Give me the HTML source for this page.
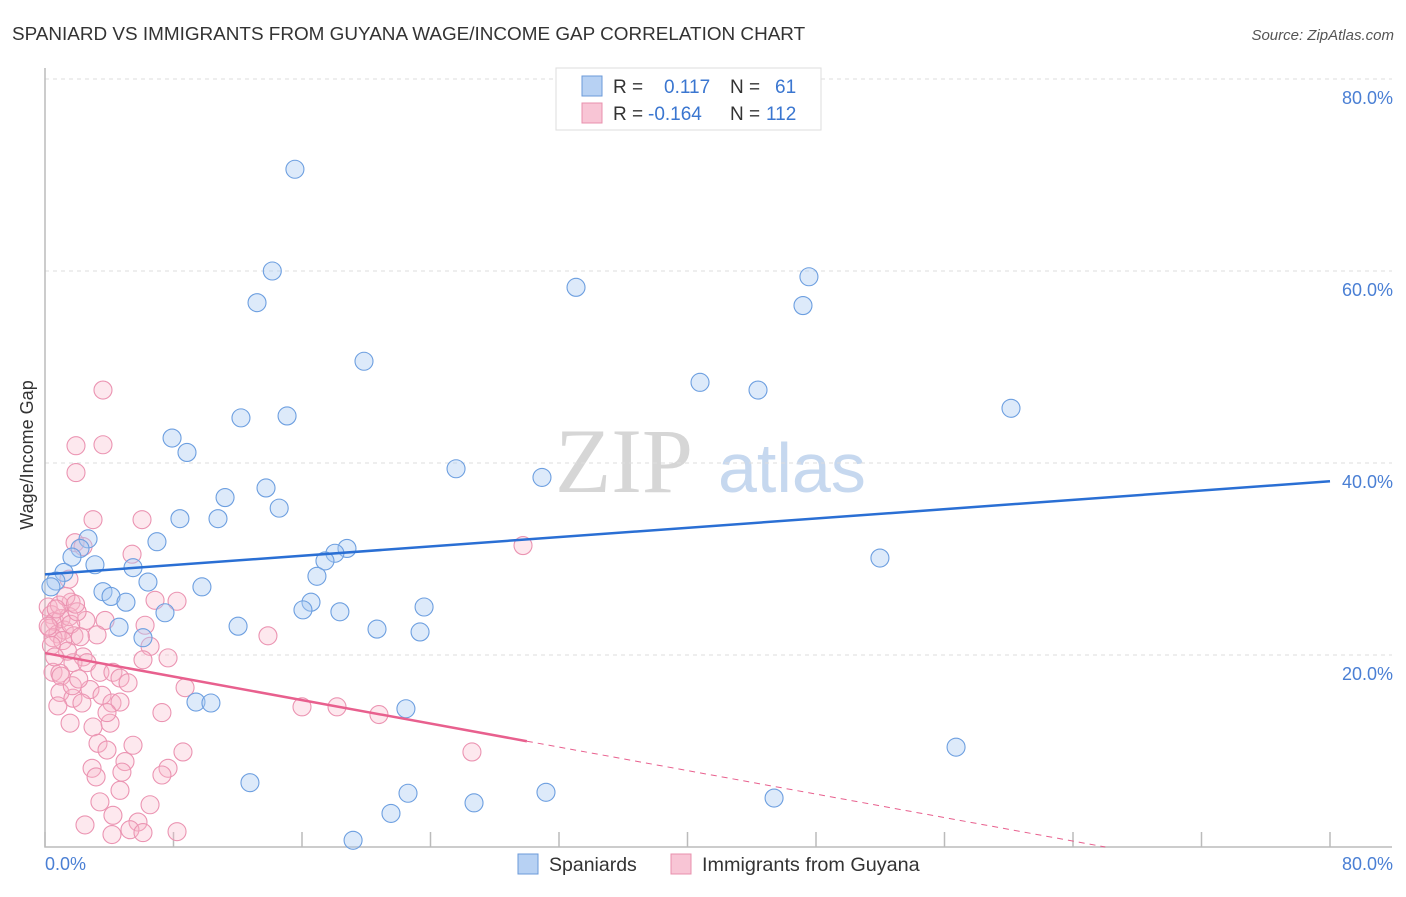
<!DOCTYPE html>
<html><head><meta charset="utf-8"><style>
body{margin:0;background:#fff;font-family:"Liberation Sans",sans-serif}
</style></head><body>
<svg width="1406" height="892" xmlns="http://www.w3.org/2000/svg" id="chart" font-family="Liberation Sans, sans-serif">
<text x="12" y="40" font-size="18.9" fill="#333">SPANIARD VS IMMIGRANTS FROM GUYANA WAGE/INCOME GAP CORRELATION CHART</text>
<text x="1394" y="40" font-size="15" fill="#555" font-style="italic" text-anchor="end">Source: ZipAtlas.com</text>
<g>
<text x="555" y="492" font-size="92" fill="#d6d6d6" font-family="Liberation Serif, serif">ZIP</text>
<text x="718" y="492" font-size="70" fill="#c6d8ef">atlas</text>
</g>
<g id="grid"></g><g id="axes"></g><g id="pinkpts"></g><g id="bluepts"></g><g id="lines"></g>
<text x="-455" y="33" transform="rotate(-90)" font-size="18" fill="#333" text-anchor="middle">Wage/Income Gap</text>
<text x="45" y="870" font-size="18" fill="#4a7fd4">0.0%</text>
<text x="1393" y="870" font-size="18" fill="#4a7fd4" text-anchor="end">80.0%</text>
<g>
<rect x="556" y="68" width="265" height="62" fill="#fff" stroke="#ddd"/>
<rect x="582" y="76" width="20" height="20" fill="#b7d1f3" stroke="#6b9ad8"/>
<rect x="582" y="103" width="20" height="20" fill="#f8c5d5" stroke="#e890ad"/>
<text x="613" y="93" font-size="19" fill="#333">R =</text><text x="664" y="93" font-size="19" fill="#3a76d0">0.117</text>
<text x="730" y="93" font-size="19" fill="#333">N =</text><text x="775" y="93" font-size="19" fill="#3a76d0">61</text>
<text x="613" y="120" font-size="19" fill="#333">R =</text><text x="648" y="120" font-size="19" fill="#3a76d0">-0.164</text>
<text x="730" y="120" font-size="19" fill="#333">N =</text><text x="766" y="120" font-size="19" fill="#3a76d0">112</text>
</g>
<g>
<rect x="518" y="854" width="20" height="20" fill="#b7d1f3" stroke="#6b9ad8"/>
<text x="549" y="871" font-size="19.5" fill="#333">Spaniards</text>
<rect x="671" y="854" width="20" height="20" fill="#f8c5d5" stroke="#e890ad"/>
<text x="702" y="871" font-size="19.8" fill="#333">Immigrants from Guyana</text>
</g>
</svg>
<script>
const yTicks=[20,40,60,80];
const yTickLabels=["20.0%","40.0%","60.0%","80.0%"];
const xTicks=[0,8,16,24,32,40,48,56,64,72,80];
const blueX=[15.56,14.15,13.2,33.06,47.56,47.19,19.86,40.78,44.39,60.14,12.2,15.07,7.91,8.84,25.59,30.94,13.76,11.21,14.58,8.4,10.77,6.97,2.68,2.18,1.68,18.8,18.05,17.43,51.98,1.18,3.11,5.48,6.41,0.68,0.37,9.77,16.93,3.61,4.11,5.04,16.56,16.06,18.36,23.6,7.47,12.02,20.67,23.35,4.61,6.1,9.4,10.33,22.47,56.72,12.76,22.6,26.71,31.19,45.39,21.54,19.18];
const blueY=[70.6,60.0,56.7,58.3,59.4,56.4,50.6,48.4,47.6,45.7,44.7,44.9,42.6,41.1,39.4,38.5,37.4,36.4,35.3,34.2,34.2,31.8,32.1,31.1,30.2,31.1,30.6,29.8,30.1,28.6,29.4,29.1,27.6,27.7,27.1,27.1,28.2,26.6,26.1,25.5,25.5,24.7,24.5,25.0,24.4,23.0,22.7,22.4,22.9,21.8,15.1,15.0,14.4,10.4,6.7,5.6,4.6,5.7,5.1,3.5,0.7];
const pinkX=[3.61,1.93,3.61,1.93,2.99,6.04,1.87,2.37,5.42,1.49,1.62,6.85,8.22,2.55,3.74,3.24,6.23,6.54,6.1,7.66,8.72,7.28,2.37,1.74,2.61,0.5,0.93,3.42,4.23,4.67,5.17,0.93,1.74,2.8,3.55,4.17,4.67,1.56,2.99,4.05,2.3,3.86,3.3,3.86,5.48,8.59,4.98,2.93,3.18,4.79,7.66,7.28,4.67,3.42,6.54,4.23,2.49,5.79,5.29,4.17,8.22,6.1,29.76,26.58,20.79,18.18,16.0,13.88,0.2,0.4,0.6,0.3,0.8,1.0,1.2,0.5,1.5,1.8,0.9,1.3,0.2,0.7,1.1,1.6,2.0,0.4,1.4,2.2,1.9,0.6,1.0,1.7,2.1,0.8];
const pinkY=[47.6,41.8,41.9,39.0,34.1,34.1,31.7,31.3,30.5,27.9,25.5,25.7,25.6,23.6,23.6,22.1,23.1,20.9,19.5,19.7,16.6,14.0,19.8,19.2,19.2,18.2,18.1,18.2,18.2,17.6,17.1,16.1,15.5,16.4,15.8,15.0,15.1,12.9,12.5,12.9,15.0,14.0,10.8,10.1,10.6,9.9,8.9,8.2,7.3,7.8,8.2,7.5,5.9,4.7,4.4,3.3,2.3,2.6,1.8,1.3,1.6,1.5,31.4,9.9,13.8,14.6,14.6,22.0,25.0,24.2,23.5,22.8,22.2,23.8,22.6,21.8,24.0,22.0,25.2,26.1,23.0,24.8,21.5,23.2,24.5,21.0,20.4,21.9,25.3,19.8,17.8,16.8,17.5,14.7];
const blueTrend=[28.4,38.1];
const pinkTrend=[20.2,-0.306];
const X=v=>45+v/80*1285, Y=v=>847-v*9.6;
const NS="http://www.w3.org/2000/svg";
function mk(p,t,a){const e=document.createElementNS(NS,t);for(const k in a)e.setAttribute(k,a[k]);document.getElementById(p).appendChild(e);return e;}
yTicks.forEach((t,i)=>{
 const l=mk('grid','line',{x1:45,x2:1392,y1:Y(t),y2:Y(t),stroke:'#ddd','stroke-dasharray':'4,4'});
 
 
 const tx=mk('grid','text',{x:1393,y:Y(t)+25,'font-size':18,fill:'#4a7fd4','text-anchor':'end'});
 tx.textContent=yTickLabels[i];
 
 
});
const ax=mk('axes','path',{d:'M45 68V847H1392',fill:'none',stroke:'#bbb','stroke-width':1.5});


xTicks.forEach(t=>{
 const l=mk('axes','line',{x1:X(t),x2:X(t),y1:832,y2:847,stroke:'#bbb','stroke-width':1.5});
 
 
});
blueX.forEach((x,i)=>{
 const c=mk('bluepts','circle',{cx:X(x),cy:Y(blueY[i]),r:9,fill:'rgba(170,202,242,0.4)',stroke:'#6d9fe0','stroke-width':1.1});
 
 
});
pinkX.forEach((x,i)=>{
 const c=mk('pinkpts','circle',{cx:X(x),cy:Y(pinkY[i]),r:9,fill:'rgba(248,182,202,0.32)',stroke:'#eb94b2','stroke-width':1.1});
 
 
});
const bl=mk('lines','line',{x1:X(0),y1:Y(blueTrend[0]),x2:X(80),y2:Y(blueTrend[1]),stroke:'#2a6fd4','stroke-width':2.5});


const pe=30, pz=-pinkTrend[0]/pinkTrend[1];
const pl=mk('lines','line',{x1:X(0),y1:Y(pinkTrend[0]),x2:X(pe),y2:Y(pinkTrend[0]+pinkTrend[1]*pe),stroke:'#e8608e','stroke-width':2.5});


const pd=mk('lines','line',{x1:X(pe),y1:Y(pinkTrend[0]+pinkTrend[1]*pe),x2:X(pz),y2:Y(0),stroke:'#e8608e','stroke-width':1,'stroke-dasharray':'6,5'});


</script>
</body></html>
